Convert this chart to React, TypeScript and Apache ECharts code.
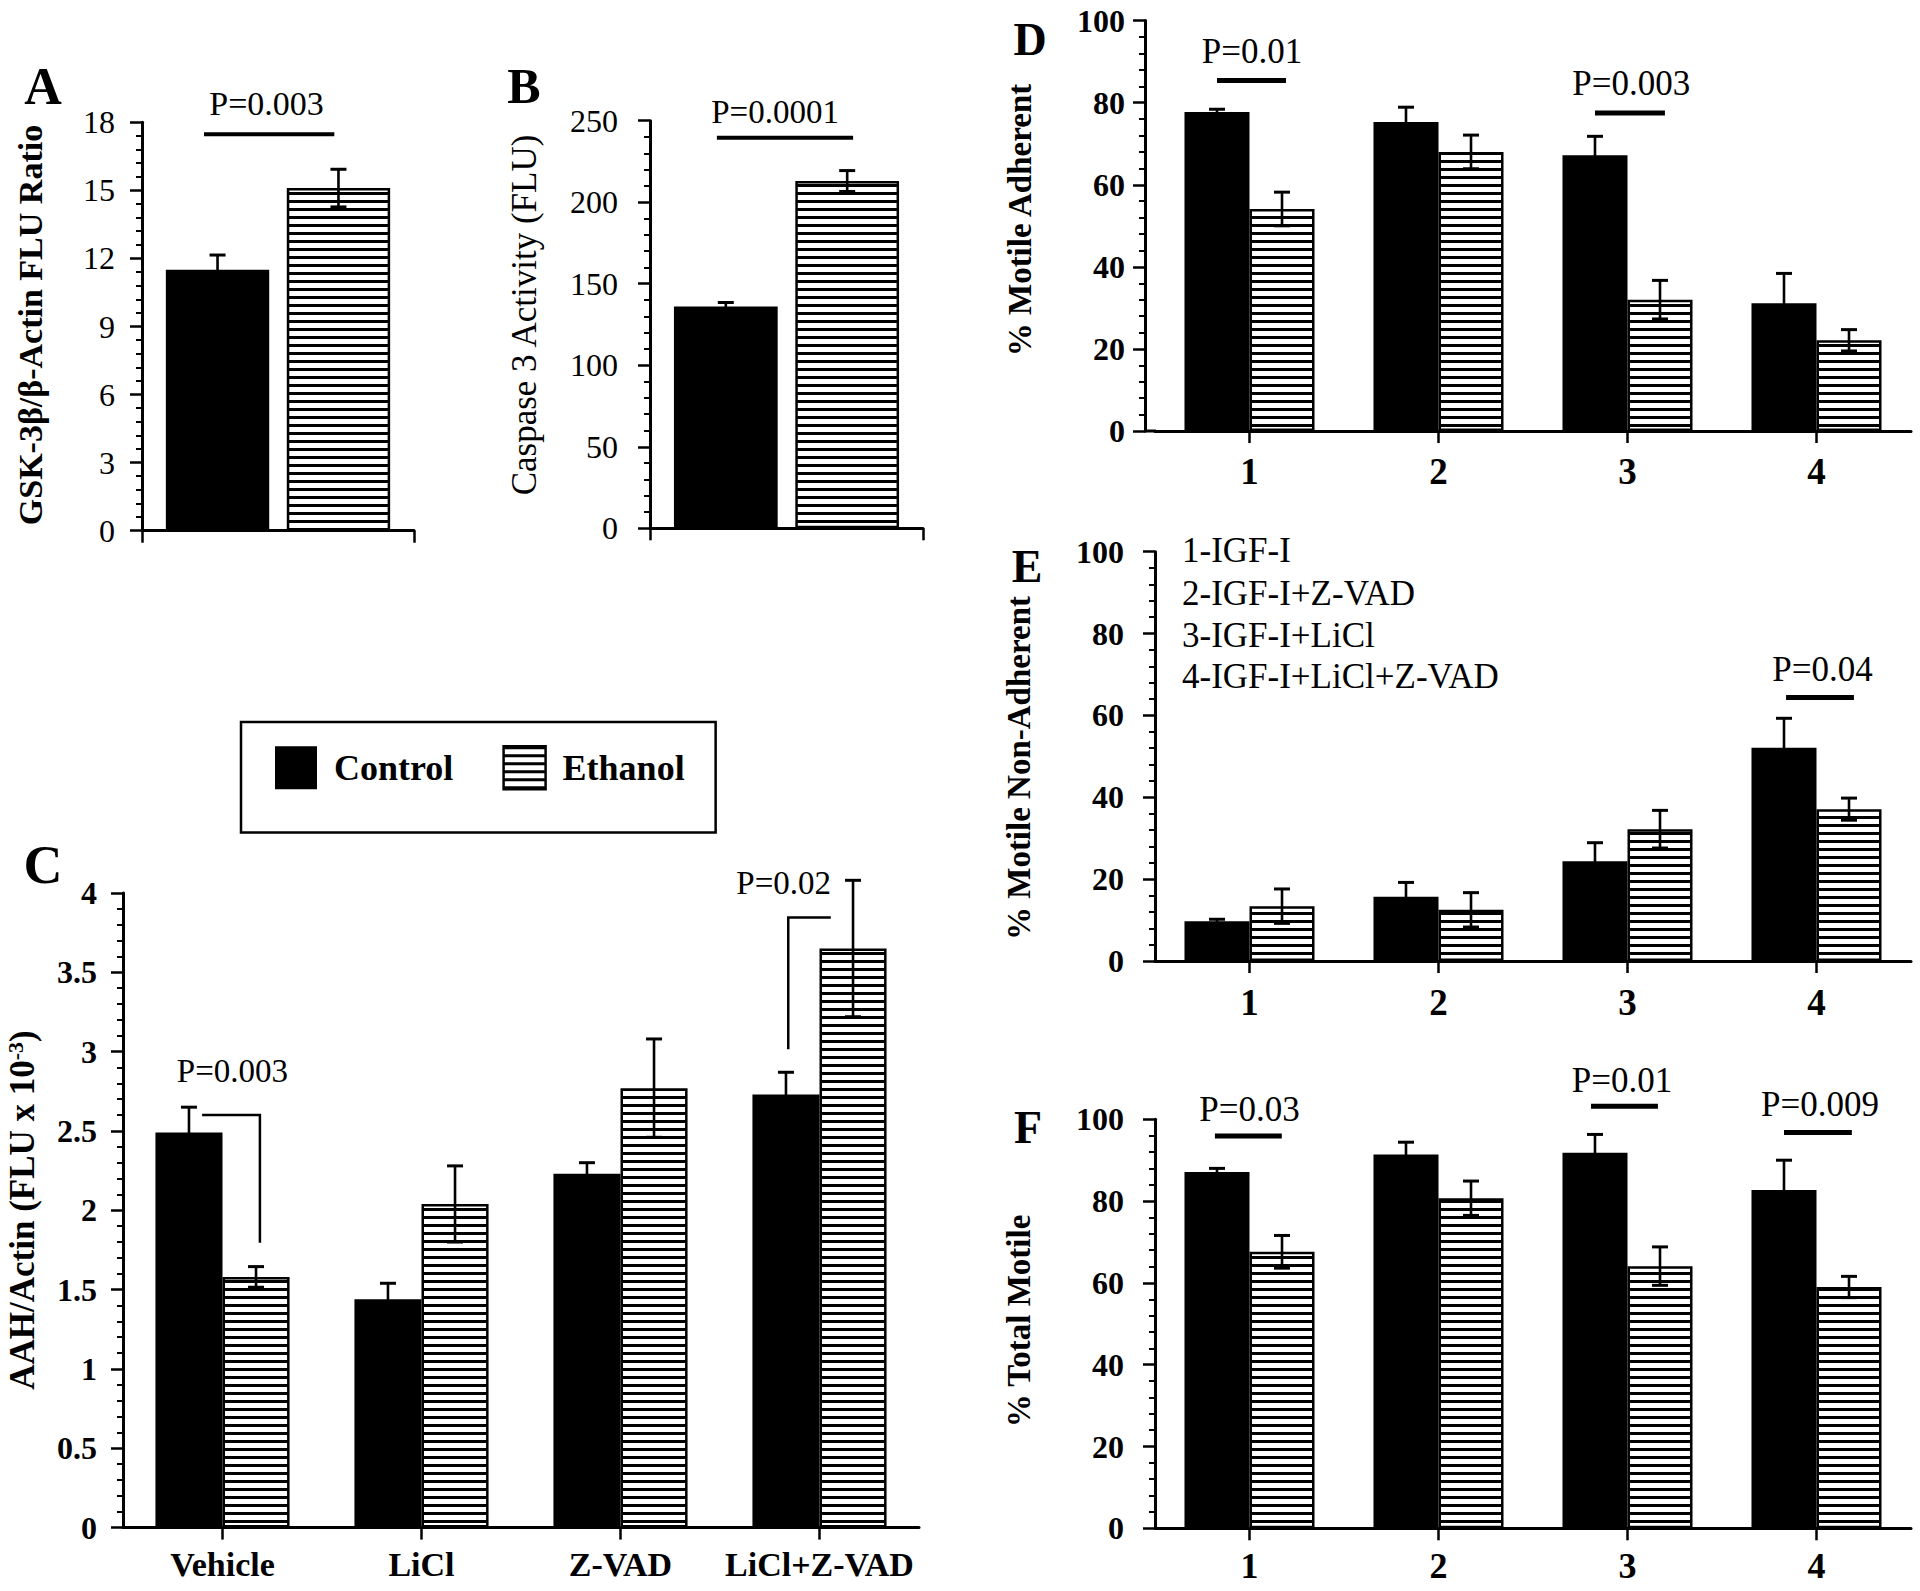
import React, { useEffect, useRef } from 'react';
import * as echarts from 'echarts';

const FONT = '"Liberation Serif", "Times New Roman", Times, serif';

// ---------- data ----------
const singleCategory = [''];
const aControl = [11.5];
const aControlErr = [0.65];
const aEthanol = [15.1];
const aEthanolErr = [0.83];

const bControl = [136];
const bControlErr = [2.5];
const bEthanol = [213];
const bEthanolErr = [6.4];

const cCategories = ['Vehicle', 'LiCl', 'Z-VAD', 'LiCl+Z-VAD'];
const cControl = [2.49, 1.44, 2.23, 2.73];
const cControlErr = [0.16, 0.1, 0.07, 0.14];
const cEthanol = [1.58, 2.04, 2.77, 3.65];
const cEthanolErr = [0.065, 0.24, 0.31, 0.43];

const treatmentCategories = ['1', '2', '3', '4'];
const dControl = [77.7, 75.3, 67.2, 31.1];
const dControlErr = [0.7, 3.6, 4.6, 7.3];
const dEthanol = [54.1, 68.0, 32.0, 22.1];
const dEthanolErr = [4.1, 4.1, 4.7, 2.6];

const eControl = [9.7, 15.7, 24.4, 52.1];
const eControlErr = [0.5, 3.5, 4.5, 7.2];
const eEthanol = [13.4, 12.5, 32.2, 37.1];
const eEthanolErr = [4.2, 4.2, 4.6, 2.7];

const fControl = [87.1, 91.4, 91.8, 82.7];
const fControlErr = [0.9, 3.0, 4.5, 7.3];
const fEthanol = [67.6, 80.7, 64.1, 59.0];
const fEthanolErr = [4.0, 4.2, 4.7, 2.6];

const treatmentKey = ['1-IGF-I', '2-IGF-I+Z-VAD', '3-IGF-I+LiCl', '4-IGF-I+LiCl+Z-VAD'];

// significance annotations: category, label, line points [bandFraction, value], text anchor
const sigA = [{ cat: 0, text: 'P=0.003', pts: [[-0.272, 17.47], [0.207, 17.47]], tx: -0.042, ty: 18.3 }];
const sigB = [{ cat: 0, text: 'P=0.0001', pts: [[-0.255, 239.6], [0.244, 239.6]], tx: -0.042, ty: 248.2 }];
const sigC = [
  { cat: 0, text: 'P=0.003', pts: [[-0.1025, 2.6], [0.188, 2.6], [0.188, 1.796]], tx: 0.05, ty: 2.81 },
  { cat: 3, text: 'P=0.02', pts: [[-0.157, 3.015], [-0.157, 3.845], [0.057, 3.845]], tx: -0.18, ty: 3.995 },
];
const sigD = [
  { cat: 0, text: 'P=0.01', pts: [[-0.172, 85.4], [0.193, 85.4]], tx: 0.013, ty: 89.5 },
  { cat: 2, text: 'P=0.003', pts: [[-0.172, 77.5], [0.198, 77.5]], tx: 0.02, ty: 81.8 },
];
const sigE = [{ cat: 3, text: 'P=0.04', pts: [[-0.161, 64.4], [0.198, 64.4]], tx: 0.032, ty: 68.2 }];
const sigF = [
  { cat: 0, text: 'P=0.03', pts: [[-0.183, 95.9], [0.171, 95.9]], tx: 0.0, ty: 99.4 },
  { cat: 2, text: 'P=0.01', pts: [[-0.193, 103.2], [0.161, 103.2]], tx: -0.029, ty: 106.6 },
  { cat: 3, text: 'P=0.009', pts: [[-0.172, 96.8], [0.187, 96.8]], tx: 0.019, ty: 100.6 },
];

function makeStripe(): any {
  const c = document.createElement('canvas');
  c.width = 8;
  c.height = 8;
  const ctx = c.getContext('2d')!;
  ctx.fillStyle = '#fff';
  ctx.fillRect(0, 0, 8, 8);
  ctx.fillStyle = '#000';
  ctx.fillRect(0, 0, 8, 3);
  return { image: c, repeat: 'repeat', imageWidth: 8, imageHeight: 8 };
}

function buildOption() {
  const stripe = makeStripe();

  const barPair = (idx: number, control: number[], ethanol: number[], barW: string, barGap: string) => [
    {
      type: 'bar', name: 'Control', xAxisIndex: idx, yAxisIndex: idx, data: control,
      barWidth: barW, barGap, itemStyle: { color: '#000' }, z: 2, emphasis: { disabled: true }, silent: true,
    },
    {
      type: 'bar', name: 'Ethanol', xAxisIndex: idx, yAxisIndex: idx, data: ethanol,
      barWidth: barW, barGap, itemStyle: { color: stripe, borderColor: '#000', borderWidth: 2.5 }, z: 2,
      emphasis: { disabled: true }, silent: true,
    },
  ];

  const errSeries = (idx: number, vals: number[], errs: number[], offsetFrac: number) => ({
    type: 'custom', xAxisIndex: idx, yAxisIndex: idx, clip: false, z: 4, silent: true,
    data: vals.map((v, i) => [i, v, errs[i]]),
    renderItem: (params: any, api: any) => {
      const i = api.value(0);
      const v = api.value(1);
      const e = api.value(2);
      const band = api.size([1, 0])[0];
      const x = api.coord([i, v])[0] + offsetFrac * band;
      const y1 = api.coord([i, v + e])[1];
      const y2 = api.coord([i, v - e])[1];
      const cw = 8;
      return {
        type: 'group',
        children: [
          { type: 'line', shape: { x1: x, y1, x2: x, y2 }, style: { stroke: '#000', lineWidth: 2.6 } },
          { type: 'line', shape: { x1: x - cw, y1, x2: x + cw, y2: y1 }, style: { stroke: '#000', lineWidth: 3 } },
          { type: 'line', shape: { x1: x - cw, y1: y2, x2: x + cw, y2 }, style: { stroke: '#000', lineWidth: 3 } },
        ],
      };
    },
  });

  const sigSeries = (idx: number, items: any[], fontSize: number, lineWidth: number) => ({
    type: 'custom', xAxisIndex: idx, yAxisIndex: idx, clip: false, z: 5, silent: true,
    data: items.map((it) => [it.cat, it.ty]),
    renderItem: (params: any, api: any) => {
      const it = items[params.dataIndex];
      const band = api.size([1, 0])[0];
      const cx = api.coord([it.cat, 0])[0];
      const pts = it.pts.map((p: number[]) => [cx + p[0] * band, api.coord([it.cat, p[1]])[1]]);
      const ty = api.coord([it.cat, it.ty])[1];
      return {
        type: 'group',
        children: [
          { type: 'polyline', shape: { points: pts }, style: { stroke: '#000', lineWidth, fill: 'none' } },
          {
            type: 'text', x: cx + it.tx * band, y: ty - 0.34 * fontSize,
            style: { text: it.text, font: `${fontSize}px ${FONT}`, fill: '#000', align: 'center', verticalAlign: 'middle' },
          },
        ],
      };
    },
  });

  const grids = [
    { left: 142, top: 122.3, width: 272, height: 408.4 },
    { left: 650, top: 120.7, width: 273, height: 407.6 },
    { left: 123, top: 893, width: 796, height: 634.6 },
    { left: 1155, top: 20.6, width: 756, height: 410.4 },
    { left: 1155, top: 551.7, width: 756, height: 409.3 },
    { left: 1155, top: 1119.3, width: 756, height: 409 },
  ];

  const axisLine = { show: true, onZero: false, lineStyle: { color: '#000', width: 3 } };

  const xCat = (gi: number, data: string[], opts: any) => ({
    type: 'category', gridIndex: gi, data, boundaryGap: true,
    axisLine,
    axisTick: { show: true, length: 12, alignWithLabel: opts.align, lineStyle: { color: '#000', width: 2.5 } },
    axisLabel: opts.label
      ? { show: true, interval: 0, color: '#000', fontFamily: FONT, fontWeight: 'bold', fontSize: opts.fs, margin: opts.margin }
      : { show: false },
    splitLine: { show: false },
  });

  const yVal = (gi: number, max: number, interval: number, opts: any) => ({
    type: 'value', gridIndex: gi, min: 0, max, interval, offset: opts.offset || 0,
    axisLine,
    axisTick: { show: true, length: 12, lineStyle: { color: '#000', width: 2.5 } },
    minorTick: { show: true, splitNumber: 5, length: 6, lineStyle: { color: '#000', width: 2 } },
    axisLabel: {
      color: '#000', fontFamily: FONT, fontWeight: opts.bold ? 'bold' : 'normal', fontSize: opts.fs, margin: opts.margin,
    },
    splitLine: { show: false },
    minorSplitLine: { show: false },
  });

  const xAxes = [
    xCat(0, singleCategory, { align: false, label: false }),
    xCat(1, singleCategory, { align: false, label: false }),
    xCat(2, cCategories, { align: true, label: true, fs: 34, margin: 20 }),
    xCat(3, treatmentCategories, { align: true, label: true, fs: 37, margin: 22 }),
    xCat(4, treatmentCategories, { align: true, label: true, fs: 37, margin: 23 }),
    xCat(5, treatmentCategories, { align: true, label: true, fs: 36, margin: 20 }),
  ];
  const yAxes = [
    yVal(0, 18, 3, { fs: 32, margin: 27 }),
    yVal(1, 250, 50, { fs: 32, margin: 32 }),
    yVal(2, 4, 0.5, { fs: 32, margin: 26, bold: true }),
    yVal(3, 100, 20, { fs: 32, margin: 20, bold: true, offset: 10 }),
    yVal(4, 100, 20, { fs: 32, margin: 31, bold: true }),
    yVal(5, 100, 20, { fs: 32, margin: 31, bold: true }),
  ];

  const abW = '38%';
  const abGap = '17%';
  const cW = '33.7%';
  const dW = '34.4%';
  const abOff = 0.38 * 1.17 / 2;

  const series: any[] = [
    ...barPair(0, aControl, aEthanol, abW, abGap),
    ...barPair(1, bControl, bEthanol, abW, abGap),
    ...barPair(2, cControl, cEthanol, cW, '0%'),
    ...barPair(3, dControl, dEthanol, dW, '0%'),
    ...barPair(4, eControl, eEthanol, dW, '0%'),
    ...barPair(5, fControl, fEthanol, dW, '0%'),
    errSeries(0, aControl, aControlErr, -abOff),
    errSeries(0, aEthanol, aEthanolErr, abOff),
    errSeries(1, bControl, bControlErr, -abOff),
    errSeries(1, bEthanol, bEthanolErr, abOff),
    errSeries(2, cControl, cControlErr, -0.1685),
    errSeries(2, cEthanol, cEthanolErr, 0.1685),
    errSeries(3, dControl, dControlErr, -0.172),
    errSeries(3, dEthanol, dEthanolErr, 0.172),
    errSeries(4, eControl, eControlErr, -0.172),
    errSeries(4, eEthanol, eEthanolErr, 0.172),
    errSeries(5, fControl, fControlErr, -0.172),
    errSeries(5, fEthanol, fEthanolErr, 0.172),
    sigSeries(0, sigA, 34, 4),
    sigSeries(1, sigB, 33, 4),
    sigSeries(2, sigC, 33, 2.5),
    sigSeries(3, sigD, 35, 5),
    sigSeries(4, sigE, 35, 5),
    sigSeries(5, sigF, 35, 5),
  ];

  const letter = (t: string, x: number, y: number, fs: number) => ({
    type: 'text', x, y,
    style: { text: t, font: `bold ${fs}px ${FONT}`, fill: '#000', align: 'center', verticalAlign: 'middle' },
  });
  const vTitle = (t: string, x: number, y: number, fs: number, bold: boolean) => ({
    type: 'text', x, y, rotation: Math.PI / 2,
    style: { text: t, font: `${bold ? 'bold ' : ''}${fs}px ${FONT}`, fill: '#000', align: 'center', verticalAlign: 'middle' },
  });

  const graphic: any[] = [
    letter('A', 43, 86, 52),
    letter('B', 524, 86, 50),
    letter('C', 43, 865, 54),
    letter('D', 1030, 39, 46),
    letter('E', 1027, 566, 46),
    letter('F', 1028, 1127, 46),
    vTitle('GSK-3β/β-Actin FLU Ratio', 30, 325, 34, true),
    vTitle('Caspase 3 Activity (FLU)', 524, 315, 35, false),
    {
      type: 'text', x: 22, y: 1210, rotation: Math.PI / 2,
      style: {
        text: '{a|AAH/Actin (FLU x 10}{s|-3}{a|)}',
        rich: {
          a: { fontFamily: FONT, fontWeight: 'bold', fontSize: 35, fill: '#000' },
          s: { fontFamily: FONT, fontWeight: 'bold', fontSize: 22, fill: '#000', verticalAlign: 'top' },
        },
        align: 'center', verticalAlign: 'middle',
      },
    },
    vTitle('% Motile Adherent', 1020, 220, 33, true),
    vTitle('% Motile Non-Adherent', 1019, 768, 33, true),
    vTitle('% Total Motile', 1019, 1321, 33, true),
    { type: 'line', shape: { x1: 1144, y1: 431, x2: 1156, y2: 431 }, style: { stroke: '#000', lineWidth: 3 } },
    ...treatmentKey.map((t, i) => ({
      type: 'text', x: 1182, y: [550, 593, 635, 676][i],
      style: { text: t, font: `35px ${FONT}`, fill: '#000', align: 'left', verticalAlign: 'middle' },
    })),
  ];

  return {
    animation: false,
    backgroundColor: '#fff',
    grid: grids,
    xAxis: xAxes,
    yAxis: yAxes,
    legend: {
      left: 241, top: 722, orient: 'horizontal',
      padding: [23, 31, 42, 34],
      borderColor: '#000', borderWidth: 2.5,
      itemWidth: 42, itemHeight: 43, itemGap: 49,
      selectedMode: false,
      textStyle: { fontFamily: FONT, fontWeight: 'bold', fontSize: 36, color: '#000', padding: [0, 0, 0, 12] },
      data: [
        { name: 'Control', icon: 'rect', itemStyle: { color: '#000', borderWidth: 0 } },
        { name: 'Ethanol', icon: 'rect', itemStyle: { color: stripe, borderColor: '#000', borderWidth: 2.5 } },
      ],
    },
    series,
    graphic,
  };
}

export default function App() {
  const ref = useRef<HTMLDivElement>(null);
  useEffect(() => {
    if (!ref.current) return;
    const chart = echarts.init(ref.current, null, { renderer: 'svg' });
    chart.setOption(buildOption() as any);
    return () => chart.dispose();
  }, []);
  return (
    <div
      ref={ref}
      style={{ position: 'absolute', left: 0, top: 0, width: 1920, height: 1591, background: '#fff' }}
    />
  );
}
